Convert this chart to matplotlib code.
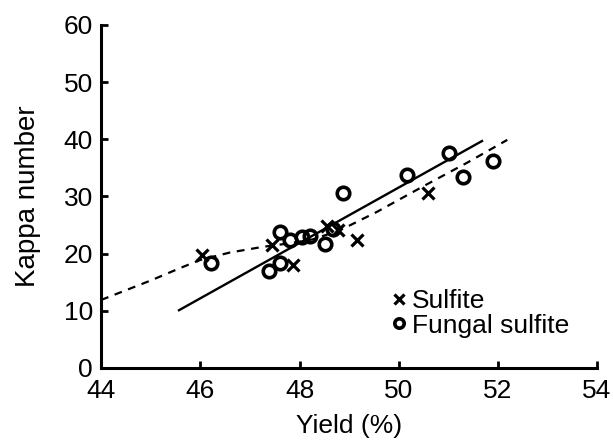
import matplotlib.pyplot as plt
import numpy as np

plt.rcParams['font.family'] = ['Liberation Sans', 'DejaVu Sans']

# sulfite pulps (x)
sulfite_yield = [46.04, 47.45, 47.87, 48.56, 48.78, 49.16, 50.59]
sulfite_kappa = [19.8, 21.5, 18.0, 24.9, 24.1, 22.4, 30.6]

# fungal sulfite pulps (o)
fungal_yield = [46.22, 47.39, 47.61, 47.6, 47.81, 48.05, 48.21, 48.52, 48.68,
                48.88, 50.17, 51.02, 51.30, 51.90]
fungal_kappa = [18.4, 17.0, 18.4, 23.8, 22.4, 22.9, 23.1, 21.7, 24.3,
                30.6, 33.7, 37.6, 33.4, 36.2]

# regression line for fungal sulfite (solid)
fit_yield = [45.57, 51.68]
fit_kappa = [10.1, 39.7]

# curve for sulfite (dashed)
curve_yield = [44.0, 45.0, 45.6, 46.0, 46.6, 47.27, 47.8, 48.27, 48.82, 49.56, 50.5, 51.4, 52.19]
curve_kappa = [11.9, 15.3, 17.5, 18.9, 20.2, 21.2, 21.8, 22.5, 24.1, 27.3, 31.8, 36.0, 39.9]

fig = plt.figure(figsize=(6.13, 4.46), dpi=100)
ax = fig.add_axes([0.165, 0.175, 0.809, 0.769])

ax.plot(fit_yield, fit_kappa, color='black', lw=1.7)
ax.plot(curve_yield, curve_kappa, color='black', lw=1.6, ls=(0, (3.5, 3)))

ax.plot(sulfite_yield, sulfite_kappa, ls='none', marker='x', ms=9, mew=2.3,
        color='black', label='Sulfite')
ax.plot(fungal_yield, fungal_kappa, ls='none', marker='o', ms=9, mew=2.6,
        mfc='none', mec='black', label='Fungal sulfite')

ax.set_xlim(44, 54)
ax.set_ylim(0, 60)
ax.set_xticks(np.arange(44, 55, 2))
ax.set_yticks(np.arange(0, 61, 10))

for s in ['top', 'right']:
    ax.spines[s].set_visible(False)
for s in ['left', 'bottom']:
    ax.spines[s].set_linewidth(2.2)

ax.tick_params(direction='in', length=5, width=2, labelsize=19)
ax.tick_params(axis='x', pad=8)
ax.tick_params(axis='y', pad=6)
ax.set_xlabel('Yield (%)', fontsize=19, labelpad=8)
ax.set_ylabel('Kappa number', fontsize=20, labelpad=16)

ax.legend(loc='lower right', bbox_to_anchor=(0.97, 0.05), frameon=False,
          fontsize=19, handlelength=0.4, handletextpad=0.3, labelspacing=0.02,
          borderpad=0, markerscale=0.75)

fig.savefig('out.png', dpi=100)
